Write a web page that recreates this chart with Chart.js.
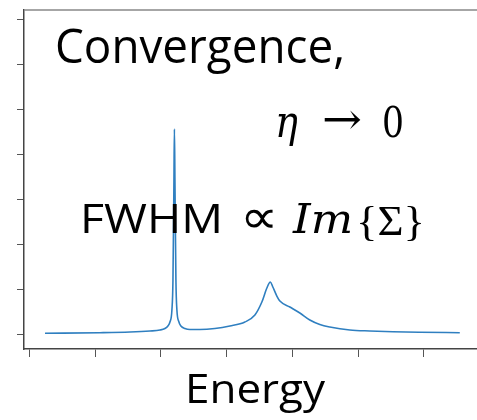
<!DOCTYPE html>
<html>
<head>
<meta charset="utf-8">
<script src="https://cdn.jsdelivr.net/npm/chart.js@4/dist/chart.umd.min.js"></script>
<style>
html,body{margin:0;padding:0;background:#fff;}
#c{display:block;}
</style>
</head>
<body>
<canvas id="c" width="477" height="420"></canvas>
<script>
// Energy axis positions (arbitrary units) of the sampled spectrum
const energy = [0.236, 1.072, 1.529, 1.833, 1.985, 2.061, 2.106, 2.137, 2.167, 2.183, 2.198, 2.205,
  2.213, 2.228, 2.243, 2.274, 2.304, 2.365, 2.441, 2.593, 2.821, 3.049, 3.278, 3.430, 3.536,
  3.612, 3.665, 3.703, 3.764, 3.810, 3.962, 4.114, 4.266, 4.418, 4.570, 4.875, 5.179, 5.529,
  5.939, 6.548];
// Spectral intensity at those energies
const intensity = [0.016, 0.029, 0.044, 0.067, 0.089, 0.122, 0.178, 0.267, 0.533, 1.2, 3.422, 4.556,
  3.422, 1.2, 0.533, 0.267, 0.178, 0.122, 0.1, 0.1, 0.122, 0.178, 0.267, 0.422, 0.711,
  1.022, 1.156, 1.044, 0.844, 0.733, 0.6, 0.467, 0.311, 0.211, 0.156, 0.089, 0.067, 0.051,
  0.04, 0.029];
const xTicks = [0, 1, 2, 3, 4, 5, 6];
const yTicks = [0, 1, 2, 3, 4, 5, 6, 7];
const xLabel = "Energy";
const annotations = ["Convergence,", "η", "→", "0", "FWHM", "∝", "Im", "{Σ}"];

function drawFit(ctx, text, font, x, baseline, width) {
  ctx.save();
  ctx.font = font;
  const w = ctx.measureText(text).width;
  ctx.translate(x, baseline);
  ctx.scale(width / w, 1);
  ctx.fillStyle = '#000';
  ctx.textBaseline = 'alphabetic';
  ctx.textAlign = 'left';
  ctx.fillText(text, 0, 0);
  ctx.restore();
}

const overlay = {
  id: 'overlay',
  afterDraw(chart) {
    const ctx = chart.ctx;
    const a = chart.chartArea;
    // top frame line
    ctx.save();
    ctx.strokeStyle = '#888';
    ctx.lineWidth = 1.5;
    ctx.beginPath();
    ctx.moveTo(a.left, a.top);
    ctx.lineTo(chart.width, a.top);
    ctx.stroke();
    ctx.restore();
    const sans = '"Open Sans", "Noto Sans", sans-serif';
    const serif = '"DejaVu Serif", "Liberation Serif", serif';
    drawFit(ctx, annotations[0], '47px ' + sans, 55, 63, 290);
    drawFit(ctx, annotations[1], 'italic 44px ' + serif, 275, 137, 23);
    drawFit(ctx, annotations[2], '44px ' + serif, 322, 134, 40);
    drawFit(ctx, annotations[3], '43px ' + serif, 382, 137, 22);
    drawFit(ctx, annotations[4], '40px ' + sans, 80, 233, 143);
    drawFit(ctx, annotations[5], '48px "Liberation Serif", serif', 240, 233, 38);
    drawFit(ctx, annotations[6], 'italic 41px ' + serif, 293, 233, 60);
    drawFit(ctx, annotations[7], '43px "Liberation Serif", serif', 356, 235, 69);
    drawFit(ctx, xLabel, '40px ' + sans, 185, 403, 140);
  }
};

new Chart(document.getElementById('c'), {
  type: 'line',
  data: {
    datasets: [{
      data: energy.map((e, i) => ({x: e, y: intensity[i]})),
      borderColor: '#2f7fc0',
      borderWidth: 1.6,
      pointRadius: 0,
      fill: false,
      tension: 0,
      cubicInterpolationMode: 'monotone'
    }]
  },
  options: {
    responsive: false,
    animation: false,
    layout: {padding: {left: 17, top: 10, right: 0, bottom: 63}},
    plugins: {legend: {display: false}, tooltip: {enabled: false}},
    scales: {
      x: {
        type: 'linear', min: -0.084, max: 6.81,
        afterBuildTicks: s => { s.ticks = xTicks.map(v => ({value: v})); },
        afterFit: s => { s.height = 8; },
        ticks: {display: false},
        grid: {drawOnChartArea: false, drawTicks: true, tickLength: 8, color: '#555', lineWidth: 1},
        border: {display: true, color: '#444', width: 1.5}
      },
      y: {
        type: 'linear', min: -0.333, max: 7.2,
        afterBuildTicks: s => { s.ticks = yTicks.map(v => ({value: v})); },
        afterFit: s => { s.width = 7; },
        ticks: {display: false},
        grid: {drawOnChartArea: false, drawTicks: true, tickLength: 7, color: '#555', lineWidth: 1},
        border: {display: true, color: '#444', width: 1.5}
      }
    }
  },
  plugins: [overlay]
});
</script>
</body>
</html>
